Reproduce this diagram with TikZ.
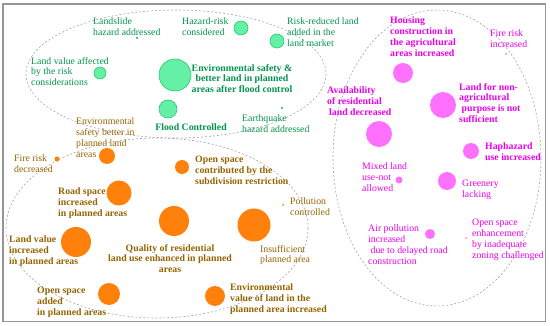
\documentclass[tikz,border=0pt]{standalone}
\usepackage{fontspec}
\setmainfont{Liberation Serif}
\definecolor{gtxt}{RGB}{0,150,75}
\definecolor{gfill}{RGB}{100,240,165}
\definecolor{gline}{RGB}{40,200,110}
\definecolor{otxt}{RGB}{150,100,0}
\definecolor{ofill}{RGB}{255,128,10}
\definecolor{mtxt}{RGB}{235,0,235}
\definecolor{mfill}{RGB}{255,112,255}
\definecolor{frame}{RGB}{150,150,150}
\newcommand{\lblfont}{\fontsize{9.8}{10.9}\selectfont}
\tikzset{
  lbl/.style={anchor=north west,inner sep=0pt,align=left,font=\lblfont,yshift=-2pt},
  bf/.style={font=\lblfont\bfseries},
  gt/.style={lbl,text=gtxt},
  ot/.style={lbl,text=otxt},
  mt/.style={lbl,text=mtxt},
  gc/.style={circle,fill=gfill,draw=gline,line width=0.6pt,inner sep=0pt,minimum size=#1},
  oc/.style={circle,fill=ofill,inner sep=0pt,minimum size=#1},
  mc/.style={circle,fill=mfill,inner sep=0pt,minimum size=#1},
  grp/.style={draw=gray!70,line width=0.6pt,dash pattern=on 2pt off 2pt},
}
\begin{document}
\begin{tikzpicture}[x=1pt,y=-1pt]
\useasboundingbox (0,0) rectangle (550,326);
\fill[white] (0,0) rectangle (550,326);
\draw[frame,line width=1.5pt] (3,4) rectangle (545.5,321.5);
% group ellipses
\draw[grp] (176,74) ellipse [x radius=150,y radius=64];
\draw[grp] (157,228) ellipse [x radius=151,y radius=90];
\draw[grp] (437,158) ellipse [x radius=104,y radius=148];
% green group
\node[gc=32pt] (g1) at (175,75) {};
\node[gc=14pt] (g2) at (241,28) {};
\node[gc=14pt] (g3) at (277,41) {};
\node[gc=12pt] (g4) at (100,73) {};
\node[gc=18pt] (g5) at (168,109) {};
\node[circle,fill=gtxt,inner sep=0pt,minimum size=2pt] (g6) at (137,38) {};
\node[circle,fill=gtxt,inner sep=0pt,minimum size=2pt] (g7) at (282,108) {};
\node[gt] (tg1) at (93,16) {Landslide\\hazard addressed};
\node[gt] (tg2) at (182,16) {Hazard-risk\\considered};
\node[gt] (tg3) at (287,16) {Risk-reduced land\\added in the\\land market};
\node[gt] (tg4) at (31,55) {Land value affected\\by the risk\\considerations};
\node[gt,bf,align=center,anchor=north] (tg5) at (242,62) {Environmental safety \&\\better land in planned\\areas after flood control};
\node[gt,bf,anchor=north] (tg6) at (191,122) {Flood Controlled};
\node[gt] (tg7) at (242,113) {Earthquake\\hazard addressed};
% orange group
\node[oc=16pt] (o1) at (107,156) {};
\node[oc=5pt] (o2) at (57,159) {};
\node[oc=14pt] (o3) at (182,167) {};
\node[oc=25pt] (o4) at (119,193) {};
\node[oc=2pt] (o5) at (283,205) {};
\node[oc=30pt] (o6) at (174,221) {};
\node[oc=33pt] (o7) at (254,225) {};
\node[oc=30pt] (o8) at (76,242) {};
\node[oc=22pt] (o9) at (109,294) {};
\node[oc=20pt] (o10) at (215,296) {};
\node[ot] (to1) at (76,116) {Environmental\\safety better in\\planned land\\areas};
\node[ot] (to2) at (14,153) {Fire risk\\decreased};
\node[ot,bf] (to3) at (195,154) {Open space\\contributed by the\\subdivision restriction};
\node[ot,bf] (to4) at (58,186) {Road space\\increased\\in planned areas};
\node[ot] (to5) at (290,196) {Pollution\\controlled};
\node[ot] (to6) at (260,243) {Insufficient\\planned area};
\node[ot,bf] (to7) at (9,234) {Land value\\increased\\in planned areas};
\node[ot,bf,align=center,anchor=north] (to8) at (170,242) {Quality of residential\\land use enhanced in planned\\areas};
\node[ot,bf] (to9) at (37,285) {Open space\\added\\in planned areas};
\node[ot,bf] (to10) at (230,282) {Environmental\\value of land in the\\planned area increased};
% magenta group
\node[mc=20pt] (m1) at (403,73) {};
\node[mc=2pt] (m2) at (506,54) {};
\node[mc=26pt] (m3) at (443,105) {};
\node[mc=26pt] (m4) at (379,134) {};
\node[mc=16pt] (m5) at (471,151) {};
\node[mc=7pt] (m6) at (399,180) {};
\node[mc=18pt] (m7) at (447,181) {};
\node[mc=10pt] (m8) at (430,234) {};
\node[mc=2pt] (m9) at (466,238) {};
\node[mt,bf] (tm1) at (390,15) {Housing\\construction in\\the agricultural\\areas increased};
\node[mt] (tm2) at (490,28) {Fire risk\\increased};
\node[mt,bf] (tm3) at (459,81) {Land for non-\\agricultural\\\ purpose is not\\sufficient};
\node[mt,bf] (tm4) at (327,85) {Availability\\of residential\\\hspace{2pt}land decreased};
\node[mt,bf] (tm5) at (485,141) {Haphazard\\use increased};
\node[mt] (tm6) at (362,161) {Mixed land\\use-not\\allowed};
\node[mt] (tm7) at (462,178) {Greenery\\lacking};
\node[mt] (tm8) at (368,223) {Air pollution\\increased\\\ due to delayed road\\construction};
\node[mt] (tm9) at (472,217) {Open space\\enhancement\\by inadequate\\zoning challenged};
\end{tikzpicture}
\end{document}
